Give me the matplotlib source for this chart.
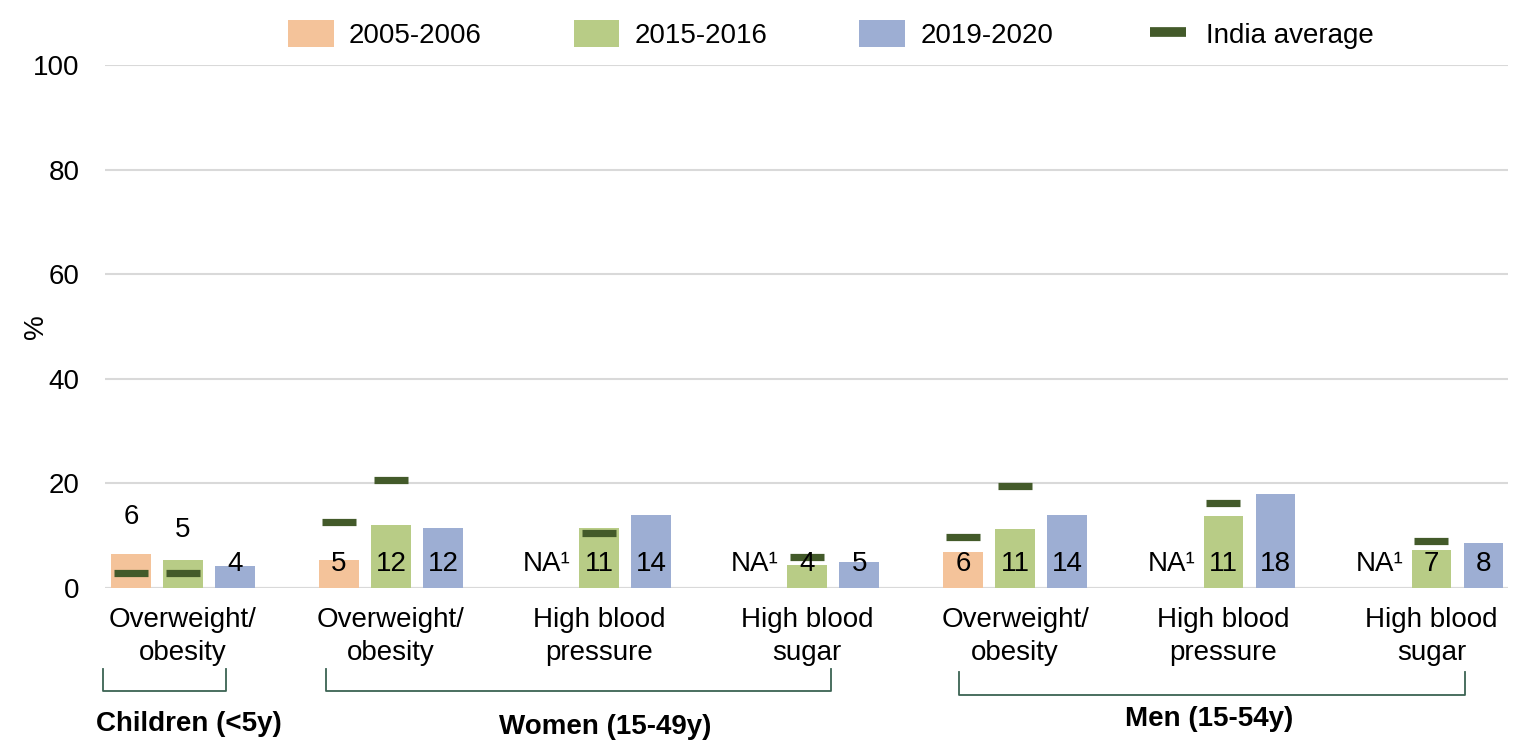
import numpy as np
import matplotlib
matplotlib.use("Agg")
import matplotlib.pyplot as plt
from matplotlib.patches import Patch
from matplotlib.lines import Line2D

plt.rcParams['font.family'] = ['Liberation Sans', 'DejaVu Sans']

# ---- data ----
categories = ["Overweight/\nobesity", "Overweight/\nobesity", "High blood\npressure",
              "High blood\nsugar", "Overweight/\nobesity", "High blood\npressure",
              "High blood\nsugar"]
series_names = ["2005-2006", "2015-2016", "2019-2020"]

# bar heights as drawn
h_2005 = [6.5, 5.3, np.nan, np.nan, 6.9, np.nan, np.nan]
h_2015 = [5.3, 12.0, 11.5, 4.4, 11.3, 13.8, 7.3]
h_2019 = [4.2, 11.5, 14.0, 5.0, 14.0, 18.0, 8.6]

# printed value labels
lab_2005 = ["6", "5", "NA\u00b9", "NA\u00b9", "6", "NA\u00b9", "NA\u00b9"]
lab_2015 = ["5", "12", "11", "4", "11", "11", "7"]
lab_2019 = ["4", "12", "14", "5", "14", "18", "8"]

# India average markers
avg_2005 = [2.9, 12.6, np.nan, np.nan, 9.7, np.nan, np.nan]
avg_2015 = [2.9, 20.6, 10.5, 5.9, 19.5, 16.3, 9.0]

groups = ["Children (<5y)", "Women (15-49y)", "Men (15-54y)"]

colors = ["#F4C39A", "#B8CC86", "#9DAED3"]
avg_color = "#435A2A"
bracket_color = "#3B6353"
FS = 20

fig = plt.figure(figsize=(15.19, 7.41), dpi=100)
ax = fig.add_axes([0.069, 0.2065, 0.924, 0.7058])

x = np.arange(len(categories))
offset = 0.25
width = 0.19

heights = [h_2005, h_2015, h_2019]
labels = [lab_2005, lab_2015, lab_2019]
for i, (h, c) in enumerate(zip(heights, colors)):
    ax.bar(x + (i - 1) * offset, h, width=width, color=c, zorder=2)

for i, avg in enumerate([avg_2005, avg_2015]):
    ax.plot(x + (i - 1) * offset, avg, linestyle='none', marker='_',
            markersize=24, markeredgewidth=5.2, color=avg_color, zorder=3)

# value labels (children's first two sit above the bars in the original)
label_y_override = {(0, 0): 13.6, (1, 0): 11.1}
for i, labs in enumerate(labels):
    for j, lab in enumerate(labs):
        y = label_y_override.get((i, j), 4.5)
        ax.text(x[j] + (i - 1) * offset, y, lab, ha='center', va='center',
                fontsize=FS, zorder=4)

ax.set_ylim(0, 100)
ax.set_xlim(-0.375, 6.37)
ax.set_yticks(np.arange(0, 101, 20))
ax.grid(axis='y', color='#D9D9D9', linewidth=1.5, zorder=0)
ax.set_axisbelow(True)
for s in ax.spines.values():
    s.set_visible(False)
ax.axhline(0, color='#D9D9D9', linewidth=1.5, zorder=1)
ax.tick_params(axis='both', length=0, labelsize=FS)
ax.tick_params(axis='x', pad=14)
ax.tick_params(axis='y', pad=18)
ax.set_xticks(x)
ax.set_xticklabels(categories, linespacing=1.35)
ax.set_ylabel('%', fontsize=FS)
ax.yaxis.set_label_coords(-0.040, 0.5)

# group brackets and titles
trans = matplotlib.transforms.blended_transform_factory(ax.transData, fig.transFigure)
bracket_spans = [(-0.385, 0.207), (0.69, 3.115), (3.73, 6.16)]
bracket_top = [1 - 669 / 741, 1 - 669 / 741, 1 - 672 / 741]
bracket_bot = [1 - 691 / 741, 1 - 691 / 741, 1 - 695 / 741]
title_x = [0.03, 2.03, 4.93]
title_y = [1 - 724 / 741, 1 - 727 / 741, 1 - 719 / 741]
for k, g in enumerate(groups):
    x0, x1 = bracket_spans[k]
    yt, yb = bracket_top[k], bracket_bot[k]
    ax.add_line(Line2D([x0, x0, x1, x1], [yt, yb, yb, yt], transform=trans,
                       color=bracket_color, linewidth=1.3, clip_on=False))
    ax.text(title_x[k], title_y[k], g, transform=trans, ha='center', va='center',
            fontsize=FS, fontweight='bold')

# legend
handles = [Patch(facecolor=c, edgecolor='none', label=n) for c, n in zip(colors, series_names)]
handles.append(Line2D([], [], linestyle='none', marker='_', markersize=26,
                      markeredgewidth=7, color=avg_color, label='India average'))
fig.legend(handles=handles, loc='center', bbox_to_anchor=(0.547, 0.953), ncol=4,
           frameon=False, fontsize=FS, handlelength=1.65, handleheight=1.1,
           handletextpad=0.55, columnspacing=3.3)

fig.savefig('out.png', dpi=100)
